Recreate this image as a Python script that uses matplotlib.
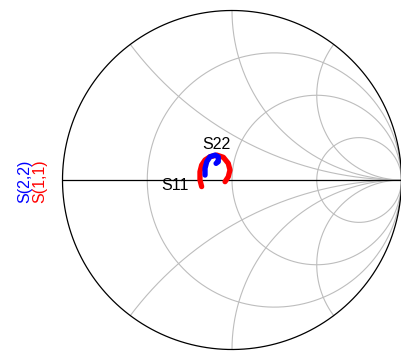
import numpy as np
import matplotlib
matplotlib.use('Agg')
import matplotlib.pyplot as plt

plt.rcParams['font.family'] = ['Liberation Sans', 'DejaVu Sans']

s11_re = [-0.179, -0.189, -0.189, -0.179, -0.159, -0.130, -0.090, -0.051, -0.022, -0.012, -0.022, -0.041]
s11_im = [-0.039, 0.000, 0.049, 0.088, 0.118, 0.137, 0.147, 0.134, 0.098, 0.059, 0.019, -0.010]
s22_re = [-0.159, -0.159, -0.149, -0.130, -0.100, -0.081, -0.081, -0.094]
s22_im = [0.029, 0.069, 0.108, 0.137, 0.147, 0.137, 0.108, 0.098]

r_grid = [1 / 3, 1, 3]
x_grid = [0.5, 1, 2]

fig = plt.figure(figsize=(4.01, 3.51), dpi=100)
ax = fig.add_axes([62.5 / 401, 1.5 / 351, 339 / 401, 339 / 351])
ax.set_xlim(-1, 1)
ax.set_ylim(-1, 1)
ax.axis('off')

grid_kw = dict(color='#bdbdbd', lw=0.8, zorder=1)
t = np.tan(np.linspace(-np.pi / 2 + 1e-4, np.pi / 2 - 1e-4, 2000))
for r in r_grid:
    z = r + 1j * t * 5
    g = (z - 1) / (z + 1)
    ax.plot(g.real, g.imag, **grid_kw)
rr = np.tan(np.linspace(0, np.pi / 2 - 1e-4, 2000)) * 5
for x in x_grid:
    for s in (1, -1):
        z = rr + 1j * s * x
        g = (z - 1) / (z + 1)
        ax.plot(g.real, g.imag, **grid_kw)

th = np.linspace(0, 2 * np.pi, 600)
ax.plot(np.cos(th), np.sin(th), color='black', lw=0.9, zorder=2, clip_on=False)
ax.plot([-1, 1], [0, 0], color='black', lw=0.9, zorder=2, clip_on=False)

ax.plot(s11_re, s11_im, color='red', lw=3.8, solid_capstyle='round', zorder=3)
ax.plot(s22_re, s22_im, color='blue', lw=3.8, solid_capstyle='round', zorder=4)

ax.text(-0.254, -0.035, 'S11', ha='right', va='center', fontsize=11.5)
ax.text(-0.091, 0.212, 'S22', ha='center', va='center', fontsize=11.5)

fig.text(25 / 401, 1 - 181 / 351, 'S(2,2)', color='blue', rotation=90,
         ha='center', va='center', fontsize=11.5)
fig.text(40 / 401, 1 - 181 / 351, 'S(1,1)', color='red', rotation=90,
         ha='center', va='center', fontsize=11.5)

fig.savefig('out.png', dpi=100)
